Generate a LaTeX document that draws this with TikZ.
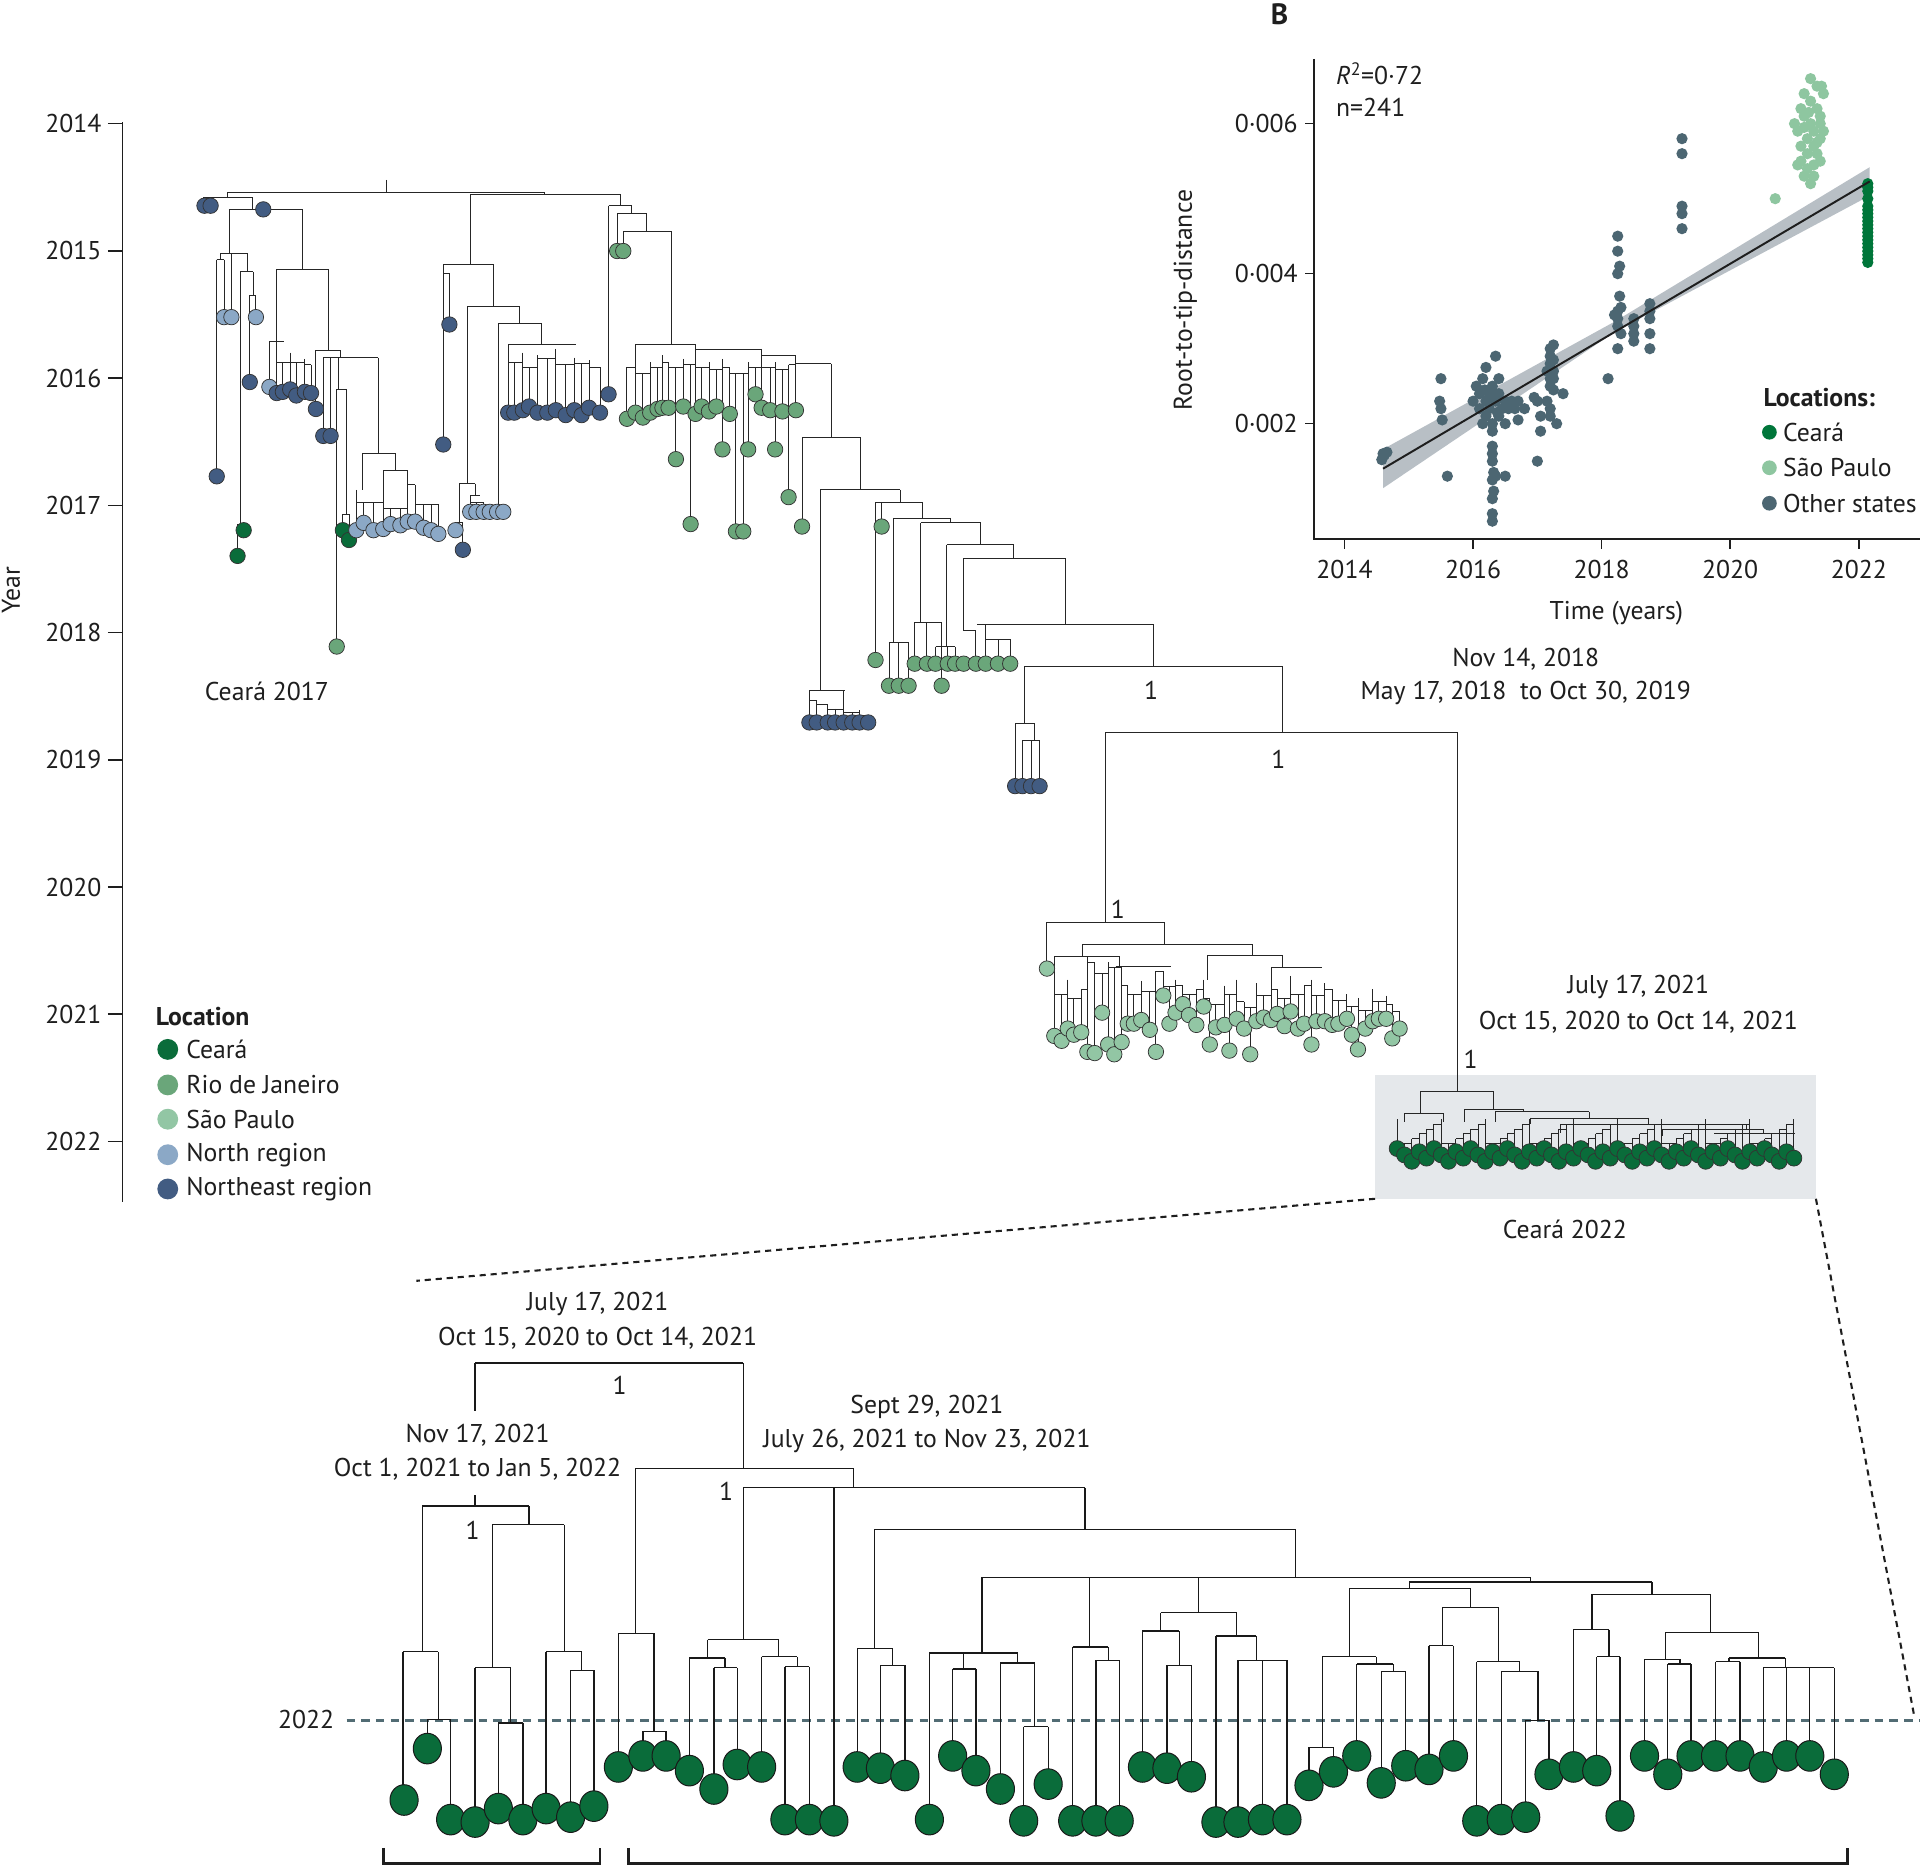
\documentclass[tikz,border=0pt]{standalone}
\usepackage{fontspec}
\setmainfont{PT Sans}
\definecolor{ce}{RGB}{10,108,58}
\definecolor{rj}{RGB}{106,166,122}
\definecolor{sp}{RGB}{146,198,164}
\definecolor{nr}{RGB}{139,168,198}
\definecolor{ne}{RGB}{66,92,130}
\definecolor{os}{RGB}{76,102,114}
\definecolor{ice}{RGB}{0,118,58}
\definecolor{isp}{RGB}{142,198,160}
\definecolor{greybox}{RGB}{229,232,235}
\definecolor{band}{RGB}{172,180,188}
\definecolor{slate}{RGB}{82,108,116}
\definecolor{txt}{RGB}{30,30,30}
\tikzset{
 br/.style={line width=0.75pt, draw=black!85},
 bbr/.style={line width=1.05pt, draw=black!90},
 tipst/.style={line width=0.6pt, draw=black!80},
 btipst/.style={line width=0.8pt, draw=black!90, fill=ce},
 lab/.style={font=\fontsize{21}{25}\selectfont, inner sep=0pt, text=txt},
 blab/.style={font=\fontsize{21}{25}\selectfont\bfseries, inner sep=0pt, text=txt},
 axisline/.style={line width=1.3pt, draw=txt},
 zoomline/.style={line width=1.7pt, draw=txt, dash pattern=on 5pt off 4pt},
 yearline/.style={line width=2pt, draw=slate, dash pattern=on 7pt off 5pt},
 brack/.style={line width=2.2pt, draw=txt},
}
\newcommand\hbr[3]{\draw[br] (#1,#3) -- (#2,#3);}
\newcommand\vbr[3]{\draw[br] (#1,#2) -- (#1,#3);}
\newcommand\bhr[3]{\draw[bbr] (#1,#3) -- (#2,#3);}
\newcommand\bvr[3]{\draw[bbr] (#1,#2) -- (#1,#3);}
\newcommand\tipc[3]{\draw[tipst, fill=#3] (#1,#2) circle[radius=6.3];}
\newcommand\clus[1]{%
  \gdef\lastx{}%
  \foreach \cx/\cy/\cp/\cc in #1 {%
    \draw[br] (\cx,\cp) -- (\cx,\cy);
    \ifx\lastx\empty\else
      \pgfmathsetmacro\hy{max(\cp,\lastp)}%
      \draw[br] (\lastx,\hy) -- (\cx,\hy);
    \fi
    \xdef\lastx{\cx}\xdef\lastp{\cp}%
  }}
\newcommand\clustips[1]{\foreach \cx/\cy/\cp/\cc in #1 {\draw[tipst, fill=\cc] (\cx,\cy) circle[radius=6.3];}}
% cluster data: x/y/parent-y/colour
\def\clA{220/316/279/nr, 226/321/279/ne, 231/320/296/ne, 237/318/288/ne, 242/323/296/ne, 249/320/293/ne, 254/321/298/ne}
\def\clB{415/337/281/ne, 420/337/296/ne, 427/335/288/ne, 432/332/300/ne, 439/337/290/ne, 447/337/293/ne, 454/335/285/ne, 462/339/298/ne, 469/335/292/ne, 475/339/297/ne, 481/333/294/ne, 490/337/300/ne}
\def\clNRa{291/433/400/nr, 297/427/410/nr, 305/433/410/nr, 313/432/384/nr, 319/428/415/nr, 327/429/415/nr, 333/426/384/nr, 339/426/396/nr, 346/431/412/nr, 352/433/412/nr, 358/436/412/nr}
\def\clNRb{384/418/405/nr, 389/418/410/nr, 395/418/410/nr, 400/418/413/nr, 406/418/413/nr, 411/418/413/nr}
\def\clRJ{512/342/300/rj, 519/337/281/rj, 525/341/305/rj, 531/337/296/rj, 537/334/300/rj, 541/333/290/rj, 546/333/296/rj, 552/375/300/rj, 558/332/293/rj, 564/428/298/rj, 568/338/281/rj, 573/332/300/rj, 579/336/296/rj, 585/332/302/rj, 590/367/293/rj, 596/338/300/rj, 601/434/305/rj, 607/434/305/rj, 611/367/296/rj, 617/322/300/rj, 622/333/285/rj, 629/335/300/rj, 633/367/296/rj, 639/336/302/rj, 644/406/298/rj, 650/335/290/rj}
\def\clNEc{661/590/564/ne, 667/590/572/ne, 676/590/575/ne, 682/590/579/ne, 689/590/564/ne, 696/590/582/ne, 702/590/580/ne, 709/590/584/ne}
\def\clSP{861/846/797/sp, 867/850/812/sp, 872/840/800/sp, 877/845/815/sp, 883/843/808/sp, 888/859/781/sp, 894/860/786/sp, 900/827/795/sp, 905/853/786/sp, 910/861/790/sp, 916/851/789/sp, 921/836/805/sp, 926/836/812/sp, 932/833/801/sp, 939/841/810/sp, 944/859/793/sp, 950/813/793/sp, 955/836/806/sp, 960/827/800/sp, 966/820/805/sp, 971/829/812/sp, 977/837/808/sp, 983/822/800/sp, 988/853/815/sp, 993/839/820/sp, 1000/837/805/sp, 1004/858/812/sp, 1010/832/800/sp, 1016/840/818/sp, 1021/861/823/sp, 1026/834/803/sp, 1032/831/813/sp, 1038/833/790/sp, 1043/828/808/sp, 1049/838/815/sp, 1054/826/797/sp, 1060/840/812/sp, 1065/836/805/sp, 1071/853/800/sp, 1075/834/813/sp, 1082/834/803/sp, 1088/837/808/sp, 1093/836/817/sp, 1100/832/812/sp, 1104/845/822/sp, 1109/857/815/sp, 1115/840/825/sp, 1121/834/808/sp, 1126/832/818/sp, 1132/832/813/sp, 1137/848/820/sp, 1143/840/826/sp}
\begin{document}
\begin{tikzpicture}[x=1pt,y=-1pt]
\useasboundingbox (0,0) rectangle (1568,1530);
\fill[white] (0,0) rectangle (1568,1530);
% ---------------- axis A
\draw[axisline] (100,100) -- (100,982);
\foreach \yr [count=\k from 0] in {2014,...,2022}{
  \draw[axisline] (88,{101+103.9*\k}) -- (100,{101+103.9*\k});
  \node[lab, anchor=east] (yr\yr) at (83,{101+103.9*\k}) {\yr};
}
\node[lab, rotate=90] (ylab) at (9,482) {Year};
% legend A
\node[blab, anchor=west] (loctitle) at (127,830) {Location};
\foreach \c/\t/\yy [count=\k] in {ce/Ceará/857, rj/Rio de Janeiro/886, sp/São Paulo/914, nr/North region/943, ne/Northeast region/971}{
  \fill[\c] (137,\yy) circle[radius=8.5];
  \node[lab, anchor=west] (leg\k) at (152,\yy) {\t};
}
% grey box
\fill[greybox] (1123,878) rectangle (1483,979);
\coordinate (boxbl) at (1123,979);
\coordinate (boxbr) at (1483,979);
% ---------------- top tree skeleton
\vbr{316}{147}{157} \hbr{186}{445}{157}
\vbr{186}{157}{161} \hbr{166}{206}{161}
\vbr{166}{161}{168}
\vbr{206}{161}{171} \hbr{187}{247}{171}
\vbr{187}{171}{207} \hbr{180}{202}{207}
\vbr{180}{207}{212} \hbr{177}{183}{212} \vbr{177}{212}{389} \vbr{183}{212}{259}
\vbr{189}{207}{259}
\vbr{202}{207}{222} \hbr{196}{207}{222}
\vbr{196}{222}{428} \hbr{194}{199}{428} \vbr{199}{428}{433} \vbr{194}{428}{454}
\vbr{207}{222}{241} \hbr{204}{209}{241} \vbr{204}{241}{312} \vbr{209}{241}{259}
\vbr{247}{171}{220} \hbr{226}{268}{220}
\vbr{226}{220}{279} \hbr{220}{232}{279}
\vbr{268}{220}{286} \hbr{258}{278}{286}
\vbr{258}{286}{334}
\vbr{278}{286}{292} \hbr{264}{309}{292}
\vbr{264}{292}{356} \vbr{270}{292}{356}
\vbr{276}{292}{318} \hbr{275}{283}{318} \vbr{275}{318}{528} \vbr{283}{318}{420} \hbr{280}{285}{420} \vbr{280}{420}{433} \vbr{285}{420}{441}
\vbr{309}{292}{370} \hbr{296}{323}{370} \vbr{296}{370}{400} \vbr{323}{370}{384} \hbr{313}{333}{384}
\vbr{445}{157}{159} \hbr{384}{507}{159}
\vbr{384}{159}{216} \hbr{362}{403}{216}
\vbr{362}{216}{363} \hbr{362}{367}{223} \vbr{367}{223}{265}
\vbr{403}{216}{250} \hbr{382}{424}{250}
\vbr{382}{250}{395} \hbr{375}{388}{395}
\vbr{375}{395}{427} \hbr{372}{378}{427} \vbr{372}{427}{433} \vbr{378}{427}{449}
\vbr{388}{395}{405} \hbr{384}{392}{405}
\vbr{424}{250}{264} \hbr{407}{442}{264}
\vbr{407}{264}{413}
\vbr{442}{264}{281} \hbr{415}{470}{281}
\vbr{507}{159}{168} \hbr{497}{516}{168}
\vbr{497}{168}{322}
\vbr{516}{168}{174} \hbr{504}{528}{174} \vbr{504}{174}{205}
\vbr{528}{174}{189} \hbr{509}{548}{189} \vbr{509}{189}{205}
\vbr{548}{189}{281} \hbr{519}{568}{281} \hbr{568}{622}{285} \hbr{622}{650}{290}
\vbr{650}{290}{297} \hbr{650}{679}{297}
\vbr{679}{297}{357} \hbr{655}{703}{357}
\vbr{655}{357}{430}
\vbr{703}{357}{400} \hbr{670}{735}{400}
\vbr{670}{400}{564} \hbr{661}{690}{564}
\vbr{735}{400}{410} \hbr{715}{753}{410} \vbr{715}{410}{539} \vbr{720}{410}{430}
\vbr{753}{410}{423} \hbr{730}{776}{423}
\vbr{730}{423}{525} \hbr{726}{742}{525} \vbr{726}{525}{560} \vbr{734}{525}{560} \vbr{742}{525}{560}
\vbr{776}{423}{427} \hbr{752}{801}{427}
\vbr{752}{427}{508} \hbr{747}{769}{508} \vbr{747}{508}{542} \vbr{757}{508}{542} \vbr{769}{508}{560}
\vbr{801}{427}{445} \hbr{773}{828}{445}
\vbr{773}{445}{528} \hbr{764}{780}{528} \vbr{764}{528}{542} \vbr{774}{528}{542} \vbr{780}{528}{542}
\vbr{828}{445}{456} \hbr{787}{870}{456}
\vbr{787}{456}{515} \hbr{787}{797}{515} \vbr{797}{515}{542}
\vbr{870}{456}{510} \hbr{798}{942}{510}
\vbr{805}{510}{522} \hbr{805}{825}{522} \vbr{815}{522}{542} \vbr{825}{522}{542} \vbr{805}{522}{542}
\vbr{942}{510}{544} \hbr{837}{1047}{544}
\vbr{837}{544}{591} \hbr{829}{845}{591} \vbr{829}{591}{642} \vbr{845}{591}{605} \hbr{835}{849}{605} \vbr{835}{605}{642} \vbr{842}{605}{642} \vbr{849}{605}{642}
\vbr{1047}{544}{598} \hbr{903}{1190}{598}
\vbr{903}{598}{753} \hbr{855}{951}{753}
\vbr{855}{753}{791}
\vbr{951}{753}{771} \hbr{884}{1023}{771}
\vbr{884}{771}{781} \hbr{861}{914}{781} \vbr{861}{781}{797} \vbr{914}{781}{789} \hbr{911}{956}{789}
\vbr{1023}{771}{780} \hbr{986}{1047}{780} \vbr{986}{780}{800} \vbr{1047}{780}{790} \hbr{1038}{1080}{790}
\vbr{1190}{598}{891} \hbr{1160}{1220}{891}
\vbr{1160}{891}{909} \hbr{1147}{1179}{909} \vbr{1147}{909}{916} \vbr{1179}{909}{916}
\vbr{1220}{891}{906} \hbr{1196}{1244}{906} \vbr{1196}{906}{916}
\vbr{1244}{906}{908} \hbr{1221}{1298}{908} \vbr{1221}{908}{916}
\vbr{1298}{908}{913} \hbr{1250}{1346}{913} \vbr{1250}{913}{918}
\vbr{1346}{913}{918} \hbr{1274}{1426}{918} \vbr{1274}{918}{925}
\vbr{1426}{918}{922} \hbr{1358}{1440}{922} \vbr{1358}{922}{928}
\vbr{1440}{922}{926} \hbr{1400}{1466}{926}
% generic clusters
\clus{\clA} \clus{\clB} \clus{\clNRa} \clus{\clNRb} \clus{\clRJ} \clus{\clNEc} \clus{\clSP}
\foreach \i in {0,...,54}{
  \pgfmathsetmacro\ctx{1141+6*\i+1.5*mod(\i*3,3)}
  \pgfmathsetmacro\cty{938+2.6*mod(\i*7,5)}
  \pgfmathsetmacro\ctp{914+4*mod(\i*5,6)}
  \pgfmathsetmacro\ctq{914+4*mod(abs(\i-1)*5,6)}
  \pgfmathsetmacro\ctr{1141+6*(\i-1)+1.5*mod(abs(\i-1)*3,3)}
  \draw[br] (\ctx,\ctp) -- (\ctx,\cty);
  \ifnum\i>0
    \pgfmathsetmacro\hy{max(\ctp,\ctq)}
    \draw[br] (\ctr,\hy) -- (\ctx,\hy);
  \fi
}
% ---------------- top tree tips
\foreach \x/\y in {167/168, 172/168, 215/171, 177/389, 204/312, 258/334, 264/356, 270/356, 362/363, 367/265, 378/449, 497/322}{\tipc{\x}{\y}{ne}}
\foreach \x/\y in {183/259, 189/259, 209/259, 372/433}{\tipc{\x}{\y}{nr}}
\foreach \x/\y in {199/433, 194/454, 280/433, 285/441}{\tipc{\x}{\y}{ce}}
\foreach \x/\y in {275/528, 504/205, 509/205, 655/430, 715/539, 720/430, 726/560, 734/560, 742/560, 747/542, 757/542, 764/542, 769/560, 774/542, 780/542, 787/542, 797/542, 805/542, 815/542, 825/542}{\tipc{\x}{\y}{rj}}
\foreach \x in {829,835,842,849}{\tipc{\x}{642}{ne}}
\tipc{855}{791}{sp}
\clustips{\clA} \clustips{\clB} \clustips{\clNRa} \clustips{\clNRb} \clustips{\clRJ} \clustips{\clNEc} \clustips{\clSP}
\foreach \i in {0,...,54}{
  \pgfmathsetmacro\ctx{1141+6*\i+1.5*mod(\i*3,3)}
  \pgfmathsetmacro\cty{938+2.6*mod(\i*7,5)}
  \draw[tipst, fill=ce] (\ctx,\cty) circle[radius=6.5];
}
% top labels
\node[lab] (c2017) at (218,565) {Ceará 2017};
\node[lab] (c2022) at (1278,1004) {Ceará 2022};
\node[lab] (d1a) at (1246,538) {Nov 14, 2018};
\node[lab] (d1b) at (1246,566) {May 17, 2018\ \ to Oct 30, 2019};
\node[lab] (d2a) at (1338,806) {July 17, 2021};
\node[lab] (d2b) at (1338,835) {Oct 15, 2020 to Oct 14, 2021};
\node[lab] (s1) at (940,564) {1};
\node[lab] (s2) at (1044,620) {1};
\node[lab] (s3) at (913,743) {1};
\node[lab] (s4) at (1201,865) {1};
% ---------------- zoom lines
\coordinate (zl) at (340,1046);
\coordinate (zr) at (1563,1400);
\draw[zoomline] (boxbl) -- (zl);
\draw[zoomline] (boxbr) -- (zr);
% ---------------- bottom tree
\draw[yearline] (283,1405) -- (1568,1405);
\node[lab] (y2022b) at (250,1404) {2022};
\bhr{388}{607}{1113}
\bvr{388}{1113}{1152} \bvr{388}{1221}{1230}
\bhr{345}{432}{1230}
\bvr{345}{1230}{1349} \bhr{329}{358}{1349}
\bvr{329}{1349}{1470}
\bvr{358}{1349}{1404} \bhr{349}{368}{1404} \bvr{349}{1404}{1428} \bvr{368}{1404}{1486}
\bvr{432}{1230}{1245} \bhr{402}{461}{1245}
\bvr{402}{1245}{1362} \bhr{388}{417}{1362}
\bvr{388}{1362}{1488}
\bvr{417}{1362}{1407} \bhr{407}{427}{1407} \bvr{407}{1407}{1477} \bvr{427}{1407}{1486}
\bvr{461}{1245}{1349} \bhr{446}{475}{1349}
\bvr{446}{1349}{1477}
\bvr{475}{1349}{1364} \bhr{466}{485}{1364} \bvr{466}{1364}{1484} \bvr{485}{1364}{1475}
\bvr{607}{1113}{1199} \bhr{519}{697}{1199}
\bvr{519}{1199}{1334} \bhr{505}{534}{1334}
\bvr{505}{1334}{1443}
\bvr{534}{1334}{1414} \bhr{525}{544}{1414} \bvr{525}{1414}{1434} \bvr{544}{1414}{1434}
\bvr{697}{1199}{1215} \bhr{607}{886}{1215}
\bvr{607}{1215}{1339} \bhr{578}{636}{1339}
\bvr{578}{1339}{1354} \bhr{563}{592}{1354} \bvr{563}{1354}{1446} \bvr{592}{1354}{1362} \bhr{583}{602}{1362} \bvr{583}{1362}{1461} \bvr{602}{1362}{1441}
\bvr{636}{1339}{1353} \bhr{622}{651}{1353} \bvr{622}{1353}{1443} \bvr{651}{1353}{1361} \bhr{641}{661}{1361} \bvr{641}{1361}{1486} \bvr{661}{1361}{1486}
\bvr{681}{1215}{1487}
\bvr{886}{1215}{1249} \bhr{714}{1058}{1249}
\bvr{714}{1249}{1346} \bhr{700}{729}{1346} \bvr{700}{1346}{1443} \bvr{729}{1346}{1360} \bhr{719}{739}{1360} \bvr{719}{1360}{1444} \bvr{739}{1360}{1450}
\bvr{1058}{1249}{1288} \bhr{802}{1250}{1288}
\bvr{802}{1288}{1350} \bhr{759}{831}{1350}
\bvr{759}{1350}{1486}
\bvr{787}{1350}{1363} \bhr{778}{797}{1363} \bvr{778}{1363}{1434} \bvr{797}{1363}{1446}
\bvr{831}{1350}{1358} \bhr{817}{845}{1358} \bvr{817}{1358}{1461} \bvr{845}{1358}{1410} \bhr{836}{856}{1410} \bvr{836}{1410}{1487} \bvr{856}{1410}{1457}
\bvr{890}{1288}{1345} \bhr{876}{905}{1345} \bvr{876}{1345}{1487} \bvr{905}{1345}{1356} \bhr{895}{914}{1356} \bvr{895}{1356}{1487} \bvr{914}{1356}{1487}
\bvr{979}{1288}{1317} \bhr{948}{1010}{1317}
\bvr{948}{1317}{1332} \bhr{933}{963}{1332} \bvr{933}{1332}{1443} \bvr{963}{1332}{1360} \bhr{953}{973}{1360} \bvr{953}{1360}{1444} \bvr{973}{1360}{1451}
\bvr{1010}{1317}{1336} \bhr{993}{1026}{1336} \bvr{993}{1336}{1488} \bvr{1026}{1336}{1356} \bhr{1011}{1051}{1356} \bvr{1011}{1356}{1488} \bvr{1031}{1356}{1486} \bvr{1051}{1356}{1486}
\bvr{1250}{1288}{1292} \bhr{1151}{1349}{1292}
\bvr{1151}{1292}{1297} \bhr{1102}{1201}{1297}
\bvr{1102}{1297}{1353} \bhr{1080}{1124}{1353}
\bvr{1080}{1353}{1427} \bhr{1069}{1089}{1427} \bvr{1069}{1427}{1458} \bvr{1089}{1427}{1447}
\bvr{1124}{1353}{1359} \bhr{1108}{1138}{1359} \bvr{1108}{1359}{1434} \bvr{1138}{1359}{1365} \bhr{1128}{1148}{1365} \bvr{1128}{1365}{1456} \bvr{1148}{1365}{1442}
\bvr{1201}{1297}{1313} \bhr{1178}{1224}{1313}
\bvr{1178}{1313}{1344} \bhr{1167}{1187}{1344} \bvr{1167}{1344}{1445} \bvr{1187}{1344}{1434}
\bvr{1224}{1313}{1357} \bhr{1206}{1241}{1357} \bvr{1206}{1357}{1487} \bvr{1241}{1357}{1365} \bhr{1226}{1256}{1365} \bvr{1226}{1365}{1486} \bvr{1256}{1365}{1405} \bhr{1246}{1265}{1405} \bvr{1246}{1405}{1484} \bvr{1265}{1405}{1449}
\bvr{1349}{1292}{1302} \bhr{1300}{1397}{1302}
\bvr{1300}{1302}{1331} \bhr{1285}{1314}{1331} \bvr{1285}{1331}{1443} \bvr{1314}{1331}{1353} \bhr{1304}{1323}{1353} \bvr{1304}{1353}{1446} \bvr{1323}{1353}{1483}
\bvr{1397}{1302}{1333} \bhr{1360}{1436}{1333}
\bvr{1360}{1333}{1355} \bhr{1343}{1372}{1355} \bvr{1343}{1355}{1434} \bvr{1372}{1355}{1359} \bhr{1362}{1381}{1359} \bvr{1362}{1359}{1449} \bvr{1381}{1359}{1434}
\bvr{1436}{1333}{1354} \bhr{1412}{1458}{1354}
\bvr{1412}{1354}{1357} \bhr{1401}{1421}{1357} \bvr{1401}{1357}{1434} \bvr{1421}{1357}{1434}
\bvr{1458}{1354}{1362} \bhr{1440}{1498}{1362} \bvr{1440}{1362}{1443} \bvr{1459}{1362}{1434} \bvr{1478}{1362}{1434} \bvr{1498}{1362}{1449}
\foreach \x/\y in {330/1470, 349/1428, 368/1486, 388/1488, 407/1477, 427/1486, 446/1477, 466/1484, 485/1475, 505/1443, 525/1434, 544/1434, 563/1446, 583/1461, 602/1441, 622/1443, 641/1486, 661/1486, 681/1487, 700/1443, 719/1444, 739/1450, 759/1486, 778/1434, 797/1446, 817/1461, 836/1487, 856/1457, 876/1487, 895/1487, 914/1487, 933/1443, 953/1444, 973/1451, 993/1488, 1011/1488, 1031/1486, 1051/1486, 1069/1458, 1089/1447, 1108/1434, 1128/1456, 1148/1442, 1167/1445, 1187/1434, 1206/1487, 1226/1486, 1246/1484, 1265/1449, 1285/1443, 1304/1446, 1323/1483, 1343/1434, 1362/1449, 1381/1434, 1401/1434, 1421/1434, 1440/1443, 1459/1434, 1478/1434, 1498/1449}{
  \draw[btipst] (\x,\y) ellipse[x radius=11.5, y radius=12.5];
}
\node[lab] (b1a) at (488,1065) {July 17, 2021};
\node[lab] (b1b) at (488,1093) {Oct 15, 2020 to Oct 14, 2021};
\node[lab] (bs1) at (506,1131) {1};
\node[lab] (b2a) at (390,1172) {Nov 17, 2021};
\node[lab] (b2b) at (390,1200) {Oct 1, 2021 to Jan 5, 2022};
\node[lab] (bs2) at (386,1250) {1};
\node[lab] (b3a) at (757,1149) {Sept 29, 2021};
\node[lab] (b3b) at (757,1177) {July 26, 2021 to Nov 23, 2021};
\node[lab] (bs3) at (593,1218) {1};
\draw[brack] (313,1509) -- (313,1522) -- (490,1522) -- (490,1509);
\draw[brack] (513,1509) -- (513,1522) -- (1509,1522) -- (1509,1509);
% ---------------- inset B
\node[font=\fontsize{24}{28}\selectfont\bfseries, inner sep=0pt, text=txt] (panelB) at (1045,12) {B};
\fill[band, opacity=0.85] ({1098+52.5*0.6},{468.5-61.25*1.66}) -- ({1098+52.5*4.2},{468.5-61.25*3.36}) -- ({1098+52.5*8.17},{468.5-61.25*5.42}) -- ({1098+52.5*8.17},{468.5-61.25*5.04}) -- ({1098+52.5*4.2},{468.5-61.25*3.22}) -- ({1098+52.5*0.6},{468.5-61.25*1.14}) -- cycle;
\foreach \t/\v in {0.58/1.52,0.62/1.58,0.66/1.62,0.6/1.6,
 1.5/2.6,1.48/2.3,1.5/2.2,1.52/2.05,1.6/1.3,
 2.0/2.3,2.05/2.5,2.1/2.4,2.1/2.2,2.15/2.0,2.15/2.6,2.2/2.3,2.2/2.1,2.2/2.75,2.25/2.4,2.25/2.2,2.3/2.5,2.3/1.9,2.3/2.0,2.35/2.3,2.35/2.9,2.4/2.1,2.4/2.6,2.4/2.4,2.45/2.2,2.5/2.0,2.5/2.3,2.55/2.2,2.6/2.3,2.65/2.2,2.7/2.05,2.7/2.3,2.8/2.2,
 2.3/1.7,2.3/1.6,2.3/1.5,2.32/1.35,2.3/1.25,2.32/1.1,2.3/1.0,2.3/0.8,2.3/0.7,2.35/1.3,2.5/1.3,2.18/2.45,2.28/2.35,2.38/2.15,
 3.0/2.3,3.0/1.5,3.05/2.1,3.05/1.9,2.95/2.35,
 3.15/2.7,3.2/3.0,3.2/2.9,3.2/2.8,3.2/2.6,3.2/2.5,3.25/2.45,3.15/2.3,3.2/2.2,3.2/2.1,3.25/2.7,3.25/2.6,3.25/3.05,3.4/2.4,3.3/2.0,3.25/2.85,
 4.1/2.6,4.25/3.0,4.25/3.3,4.25/3.4,4.25/3.5,4.28/3.7,4.25/4.0,4.28/4.1,4.25/4.3,4.25/4.5,4.3/3.2,4.5/3.3,4.5/3.4,4.5/3.2,4.5/3.1,4.75/3.0,4.75/3.2,4.75/3.5,4.75/3.6,4.75/3.4,4.2/3.45,4.3/3.55,
 5.25/5.8,5.25/5.6,5.25/4.9,5.25/4.8,5.25/4.6}{
  \fill[os] ({1098+52.5*\t},{468.5-61.25*\v}) circle[radius=4.6];
}
\foreach \t/\v in {6.7/5.0,7.0/6.0,7.05/5.9,7.1/6.2,7.1/5.7,7.1/5.5,7.15/6.4,7.15/6.1,7.2/5.8,7.2/5.6,7.2/5.4,7.25/6.6,7.25/6.3,7.25/6.0,7.3/5.9,7.3/5.7,7.3/5.3,7.35/6.5,7.35/6.2,7.35/5.6,7.4/6.1,7.4/5.8,7.4/5.5,7.45/6.4,7.45/5.9,7.42/6.5,7.4/6.0,7.35/5.75,7.05/5.45,7.15/5.3,7.25/5.2,7.3/5.45,7.15/5.95,7.22/6.15}{
  \fill[isp] ({1098+52.5*\t},{468.5-61.25*\v}) circle[radius=4.6];
}
\foreach \v in {5.2,5.1,5.0,4.9,4.8,4.7,4.6,4.5,4.45,4.4,4.3,4.25,4.2,4.15,5.15,4.75,4.55,4.35,4.65,4.85}{
  \fill[ice] ({1098+52.5*8.14},{468.5-61.25*\v}) circle[radius=4.6];
}
\draw[line width=1.6pt, txt] ({1098+52.5*0.6},{468.5-61.25*1.4}) -- ({1098+52.5*8.17},{468.5-61.25*5.23});
\draw[axisline] (1073,48) -- (1073,440) -- (1568,440);
\foreach \v/\l in {6/0·006,4/0·004,2/0·002}{
  \draw[axisline] (1066,{468.5-61.25*\v}) -- (1073,{468.5-61.25*\v});
  \node[lab, anchor=east] (yt\v) at (1060,{468.5-61.25*\v}) {\l};
}
\foreach \yr [count=\k from 0] in {2014,2016,2018,2020,2022}{
  \draw[axisline] ({1098+105*\k},440) -- ({1098+105*\k},448);
  \node[lab] (xt\yr) at ({1098+105*\k},465) {\yr};
}
\node[lab] (xlab) at (1320,501) {Time (years)};
\node[lab, rotate=90] (ylabB) at (968,245) {Root-to-tip-distance};
\node[lab, anchor=west] (r2) at (1091,60) {\textit{R}\textsuperscript{2}=0·72};
\node[lab, anchor=west] (nn) at (1091,88) {n=241};
\node[blab, anchor=west] (locB) at (1440,325) {Locations:};
\foreach \c/\t/\yy [count=\k] in {ice/Ceará/353, isp/São Paulo/382, os/Other states/411}{
  \fill[\c] (1445,\yy) circle[radius=6];
  \node[lab, anchor=west] (legB\k) at (1456,\yy) {\t};
}
\end{tikzpicture}
\end{document}
